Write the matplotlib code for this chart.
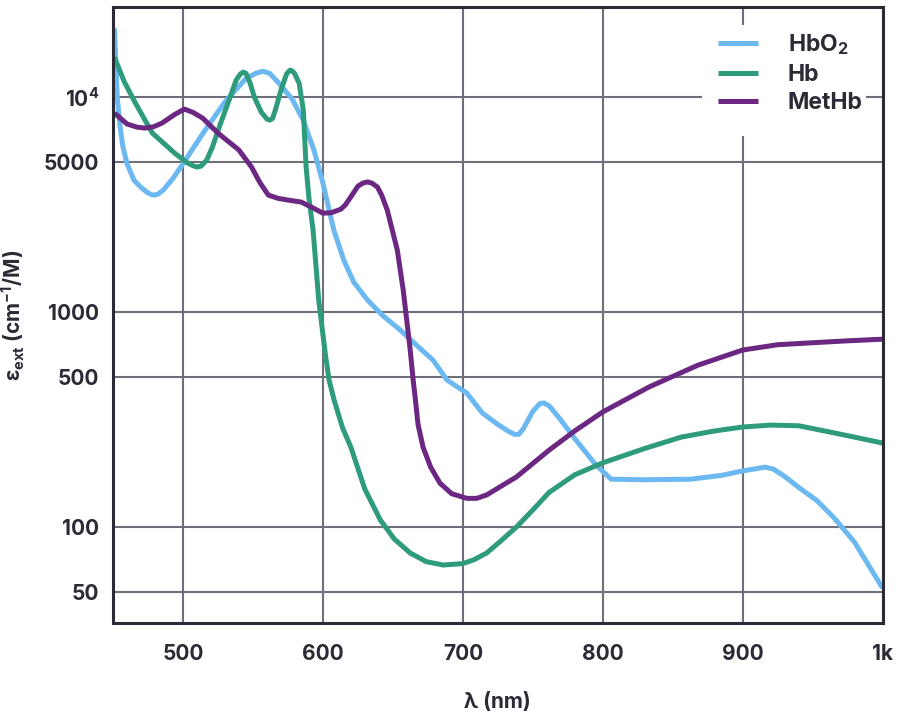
import matplotlib
matplotlib.use("Agg")
import matplotlib.pyplot as plt
from matplotlib.patches import Rectangle

plt.rcParams['font.family'] = ['Inter', 'DejaVu Sans']
plt.rcParams['font.weight'] = 'bold'
plt.rcParams['mathtext.fontset'] = 'custom'
plt.rcParams['mathtext.rm'] = 'Inter:bold'
plt.rcParams['mathtext.it'] = 'Inter:bold'
plt.rcParams['mathtext.bf'] = 'Inter:bold'

# wavelength (nm) / extinction (cm^-1/M)
hbo2_nm = [451, 452, 453, 455, 457, 460, 465, 470, 474, 477, 479, 482, 486, 493, 500,
           515, 530, 545, 552, 557, 562, 568, 578, 586, 593.6, 600, 607.8, 614.9, 622, 631.9,
           643, 655.3, 667, 678.7, 688.7, 702.8, 714, 725, 733, 737, 740, 743, 750, 755,
           758, 762, 770, 780, 795, 806, 830, 863, 885, 899, 910, 916, 922, 930, 940,
           953, 965, 980, 1000]
hbo2_val = [20900, 14500, 10000, 7300, 5900, 4900, 4100, 3800, 3620, 3530, 3500, 3530, 3700, 4200, 4900,
            6900, 9500, 12200, 12900, 13200, 12900, 11700, 9800, 7800, 5664, 3981, 2405, 1745, 1380, 1137,
            960, 825, 700, 598, 483, 420, 339, 300, 278, 270, 270, 285, 345, 375,
            378, 365, 315, 258, 195, 167, 166, 167, 174, 182, 187, 190, 186, 172, 153,
            133, 111, 85, 52]

hb_nm = [451, 458, 466, 478, 494, 503, 507, 510, 513, 517, 521, 527, 533, 538, 541,
         543, 545, 548, 551, 556, 560, 562, 564, 566, 570, 574, 576, 577, 578.5, 580,
         583, 586, 588, 590, 593, 597, 602, 604.4, 608, 614, 620, 630, 641, 651, 662.4,
         674, 686, 700, 708, 717, 727, 738.3, 750, 761.7, 780, 800, 830, 856, 880,
         900, 920, 940, 962, 980, 1000]
hb_val = [15300, 11800, 9380, 6810, 5490, 4950, 4800, 4725, 4780, 5100, 5850, 7600, 9700, 12000, 12800,
          13070, 12900, 11600, 10000, 8500, 7900, 7815, 7950, 8700, 10760, 12800, 13250, 13350, 13150, 12800,
          11600, 8700, 4725, 3400, 2400, 1137, 618, 483, 390, 290, 235, 150, 108, 88, 75.7,
          69, 66.6, 67.6, 70.5, 75.7, 86, 100, 120, 145, 175, 199, 232, 262, 280,
          292, 298, 296, 277, 262, 246]

methb_nm = [451, 460, 467, 473, 479, 485, 494, 501, 507, 514, 525, 540, 549, 555, 561,
            568, 575, 584.4, 593, 600, 606, 612.8, 616, 619.9, 625, 628.5, 631.9, 635, 639,
            642, 646, 653.2, 657.4, 662.4, 664.5, 665.9, 668, 671.6, 677, 683.7, 692, 702.8,
            710, 717, 738.3, 761.7, 780, 800, 833, 868, 900, 925, 950, 975, 1000]
methb_val = [8430, 7500, 7250, 7175, 7280, 7570, 8300, 8795, 8500, 7990, 6800, 5670, 4725, 4000, 3500,
             3380, 3320, 3250, 3050, 2884, 2900, 3010, 3150, 3430, 3850, 3980, 4030, 3980, 3813,
             3500, 2980, 1940, 1265, 666, 483, 403, 300, 235, 190, 160, 143, 136,
             136, 141, 171, 228, 280, 343, 448, 566, 666, 705, 720, 735, 748]

names = ['HbO$_2$', 'Hb', 'MetHb']
colors = ['#6cb9f2', '#2e9c7c', '#6b2782']

x_ticks = [500, 600, 700, 800, 900, 1000]
x_labels = ['500', '600', '700', '800', '900', '1k']
y_ticks = [50, 100, 500, 1000, 5000, 10000]
y_labels = ['50', '100', '500', '1000', '5000', r'$10^4$']

ink = '#2b2b36'

fig = plt.figure(figsize=(9, 7.18), dpi=100)
ax = fig.add_axes([0.1256, 0.132, 0.855, 0.858])

series = [(hbo2_nm, hbo2_val), (hb_nm, hb_val), (methb_nm, methb_val)]
for (xs, ys), name, c in zip(series, names, colors):
    ax.plot(xs, ys, color=c, lw=3.6, label=name, solid_capstyle='butt', solid_joinstyle='round')

ax.set_yscale('log')
ax.set_xlim(450, 1000)
ax.set_ylim(35.7, 26200)
ax.set_xticks(x_ticks)
ax.set_xticklabels(x_labels)
ax.set_yticks(y_ticks)
ax.set_yticklabels(y_labels)
ax.minorticks_off()
ax.tick_params(length=0, labelsize=15, colors=ink)
ax.tick_params(axis='x', pad=15)
ax.tick_params(axis='y', pad=10)
ax.grid(True, color='#6f6f7b', lw=1.5)
ax.set_axisbelow(True)
for s in ax.spines.values():
    s.set_color(ink)
    s.set_linewidth(2.2)

ax.set_xlabel('λ (nm)', fontsize=15, fontweight='bold', color=ink, labelpad=20)
ax.set_ylabel(r'$\epsilon_{ext}$ (cm$^{-1}$/M)', fontsize=15, fontweight='bold', color=ink, labelpad=12)

# white block behind the legend, hides the grid there
ax.add_patch(Rectangle((0.766, 0.791), 0.213, 0.18, transform=ax.transAxes,
                       facecolor='white', edgecolor='none', zorder=1.5))

leg = ax.legend(loc='upper right', bbox_to_anchor=(0.986, 0.975), frameon=False, fontsize=16.5,
                handlelength=1.75, handletextpad=1.3, labelspacing=0.3, borderpad=0.4,
                borderaxespad=0)
for t in leg.get_texts():
    t.set_color(ink)

fig.savefig('out.png', dpi=100)
